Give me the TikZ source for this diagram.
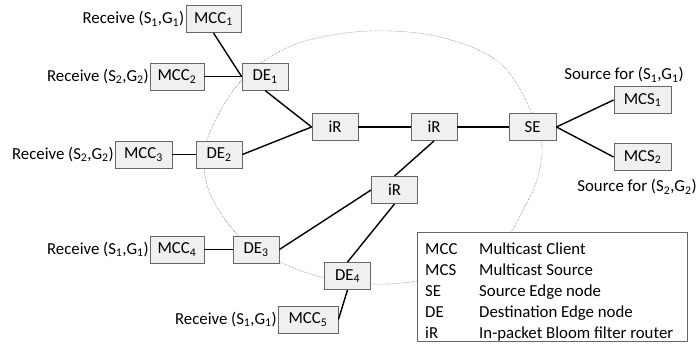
\documentclass[tikz,border=0pt]{standalone}
\usepackage{fontspec}
\setmainfont{Carlito}
\begin{document}
\begin{tikzpicture}[x=1pt,y=-1pt,
  box/.style={draw=black!60, fill=black!6, line width=0.9pt, minimum height=27pt, inner sep=0pt, font=\fontsize{16.8}{18}\selectfont},
  link/.style={line width=1.4pt, black},
  lbl/.style={font=\fontsize{16.8}{18}\selectfont, inner sep=0pt},
  cloud/.style={draw=black!50, densely dotted, line width=0.6pt},
]
\useasboundingbox (0,0) rectangle (697,345);

% dotted domain outline
\draw[cloud] plot[smooth cycle, tension=0.6] coordinates {
  (370,31) (440,37) (500,63) (532,113) (542,145) (537,180) (523,210) (505,240)
  (470,268) (417,281) (372,284) (325,278) (280,262) (240,237) (213,200)
  (204,168) (207,140) (222,108) (240,82) (262,62) (305,41)};

% nodes
\node[box, minimum width=55pt] (mcc1) at (213.5,19) {MCC\textsubscript{1}};
\node[box, minimum width=54pt] (mcc2) at (177,76.5) {MCC\textsubscript{2}};
\node[box, minimum width=57pt] (mcc3) at (143.5,154.5) {MCC\textsubscript{3}};
\node[box, minimum width=54pt] (mcc4) at (177,249.5) {MCC\textsubscript{4}};
\node[box, minimum width=60pt] (mcc5) at (308,319.5) {MCC\textsubscript{5}};
\node[box, minimum width=46pt] (de1) at (265,76.5) {DE\textsubscript{1}};
\node[box, minimum width=46pt] (de2) at (219,154.5) {DE\textsubscript{2}};
\node[box, minimum width=46pt] (de3) at (256,249.5) {DE\textsubscript{3}};
\node[box, minimum width=46pt] (de4) at (347.5,276) {DE\textsubscript{4}};
\node[box, minimum width=46pt] (ir1) at (335,127) {iR};
\node[box, minimum width=46pt] (ir2) at (434,127) {iR};
\node[box, minimum width=46pt] (ir3) at (394.5,190) {iR};
\node[box, minimum width=47pt] (se) at (532.5,127) {SE};
\node[box, minimum width=57pt] (mcs1) at (642.5,100) {MCS\textsubscript{1}};
\node[box, minimum width=57pt] (mcs2) at (642.5,157) {MCS\textsubscript{2}};

% labels
\node[lbl, anchor=east] (r1) at (184.5,19) {Receive (S\textsubscript{1},G\textsubscript{1})};
\node[lbl, anchor=east] (r2) at (149,76.5) {Receive (S\textsubscript{2},G\textsubscript{2})};
\node[lbl, anchor=east] (r3) at (114,154.5) {Receive (S\textsubscript{2},G\textsubscript{2})};
\node[lbl, anchor=east] (r4) at (149,249.5) {Receive (S\textsubscript{1},G\textsubscript{1})};
\node[lbl, anchor=east] (r5) at (277,319.5) {Receive (S\textsubscript{1},G\textsubscript{1})};
\node[lbl] (s1) at (624,75) {Source for (S\textsubscript{1},G\textsubscript{1})};
\node[lbl] (s2) at (637,187) {Source for (S\textsubscript{2},G\textsubscript{2})};

% links
\draw[link] (mcc1.south) -- (de1.west);
\draw[link] (mcc2.east) -- (de1.west);
\draw[link] (de1.south) -- (ir1.west);
\draw[link] (mcc3.east) -- (de2.west);
\draw[link] (de2.east) -- (ir1.west);
\draw[link] (ir1.east) -- (ir2.west);
\draw[link] (ir2.east) -- (se.west);
\draw[link] (ir2.south) -- (ir3.north);
\draw[link] (ir3.west) -- (de3.east);
\draw[link] (mcc4.east) -- (de3.west);
\draw[link] (ir3.south) -- (de4.north);
\draw[link] (de4.south) -- (mcc5.east);
\draw[link] (se.east) -- (mcs1.west);
\draw[link] (se.east) -- (mcs2.west);

% legend
\node[draw=black!60, fill=white, line width=0.9pt, minimum width=270pt, minimum height=109pt, inner sep=0pt] (legend) at (552,287) {};
\foreach \i/\a/\d in {0/MCC/Multicast Client, 1/MCS/Multicast Source, 2/SE/Source Edge node, 3/DE/Destination Edge node, 4/iR/In-packet Bloom filter router}{
  \node[lbl, anchor=base west] (la\i) at (425,254+21*\i) {\a};
  \node[lbl, anchor=base west] (ld\i) at (479,254+21*\i) {\d};
}
\end{tikzpicture}
\end{document}
